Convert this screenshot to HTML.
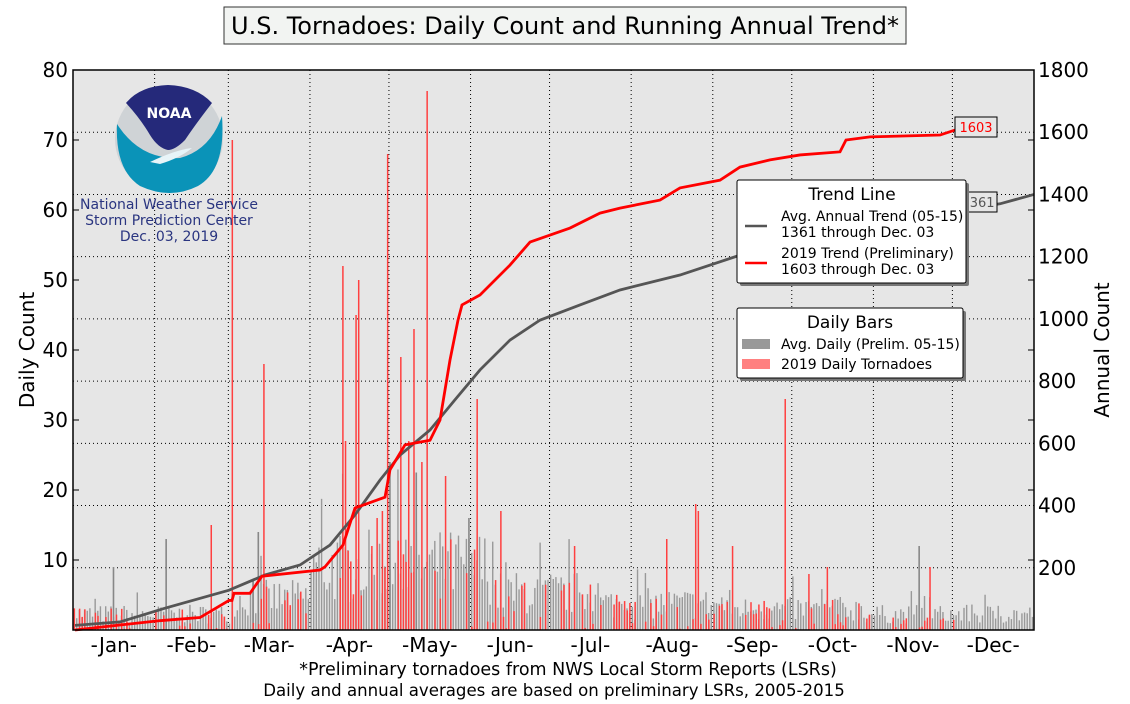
<!DOCTYPE html>
<html><head><meta charset="utf-8"><style>
body{margin:0;background:#fff;width:1130px;height:700px;overflow:hidden;font-family:"DejaVu Sans","Liberation Sans",sans-serif}
</style></head><body>
<svg id="s" width="1130" height="700" xmlns="http://www.w3.org/2000/svg" font-family="DejaVu Sans, Liberation Sans, sans-serif">
<rect x="224" y="7" width="682" height="37" fill="#f2f4f2" stroke="#333" stroke-width="1"/>
<text x="565" y="34" font-size="24" text-anchor="middle">U.S. Tornadoes: Daily Count and Running Annual Trend*</text>
<rect x="73" y="70" width="961" height="560" fill="#e6e6e6"/>
<g id="grid"></g>
<g id="bars"></g>
<g id="lines"></g>
<rect x="73" y="70" width="961" height="560" fill="none" stroke="#000" stroke-width="1.5"/>
<g id="ticks" font-size="20"></g>
<text transform="translate(34,350) rotate(-90)" font-size="20" text-anchor="middle">Daily Count</text>
<text transform="translate(1109,350) rotate(-90)" font-size="20" text-anchor="middle">Annual Count</text>
<text x="568" y="675" font-size="17.5" text-anchor="middle">*Preliminary tornadoes from NWS Local Storm Reports (LSRs)</text>
<text x="554" y="696" font-size="16.6" text-anchor="middle">Daily and annual averages are based on preliminary LSRs, 2005-2015</text>
<!-- logo -->
<circle cx="169" cy="139" r="54" fill="#cfd3d6"/>
<path d="M117,124 Q140,160 180,158 Q210,150 222,116 Q226,170 198,186 Q170,200 140,186 Q115,170 117,124Z" fill="#0a93b8"/>
<path d="M126,103 Q140,86 168,85 Q196,86 212,103 Q195,125 185,140 Q175,150 168,150 Q158,148 150,135 Q140,118 126,103Z" fill="#25297a"/>
<path d="M150,162 Q175,150 192,148 Q180,158 160,164Z" fill="#e8f4f8"/>
<text x="169" y="118" font-size="14" font-weight="bold" fill="#fff" text-anchor="middle">NOAA</text>
<text x="169" y="209" font-size="14" fill="#2a3580" text-anchor="middle">National Weather Service</text>
<text x="169" y="225" font-size="14" fill="#2a3580" text-anchor="middle">Storm Prediction Center</text>
<text x="169" y="241" font-size="14" fill="#2a3580" text-anchor="middle">Dec. 03, 2019</text>
<!-- value labels -->
<rect x="955" y="117" width="42" height="20" fill="#e6e6e6" stroke="#000"/>
<text x="976" y="132" font-size="13" fill="#f00" text-anchor="middle">1603</text>
<rect x="955" y="192" width="42" height="20" fill="#e6e6e6" stroke="#000"/>
<text x="978" y="207" font-size="13" fill="#555" text-anchor="middle">1361</text>
<!-- legends -->
<rect x="740" y="183" width="229" height="103" rx="2" fill="#777"/>
<rect x="737" y="180" width="229" height="103" rx="2" fill="#fff" stroke="#000"/>
<text x="852" y="200" font-size="17" text-anchor="middle">Trend Line</text>
<line x1="745" y1="226" x2="767" y2="226" stroke="#555" stroke-width="2.5"/>
<line x1="745" y1="263" x2="767" y2="263" stroke="#f00" stroke-width="2.5"/>
<g font-size="14"><text x="781" y="221">Avg. Annual Trend (05-15)</text><text x="781" y="237">1361 through Dec. 03</text>
<text x="781" y="258">2019 Trend (Preliminary)</text><text x="781" y="274">1603 through Dec. 03</text></g>
<rect x="740" y="311" width="226" height="70" rx="2" fill="#777"/>
<rect x="737" y="308" width="226" height="70" rx="2" fill="#fff" stroke="#000"/>
<text x="850" y="328" font-size="17" text-anchor="middle">Daily Bars</text>
<rect x="742" y="339" width="28" height="10" fill="#999"/>
<rect x="742" y="359" width="28" height="10" fill="#ff8080"/>
<g font-size="14"><text x="781" y="349">Avg. Daily (Prelim. 05-15)</text><text x="781" y="369">2019 Daily Tornadoes</text></g>
</svg>
<script>
var NS="http://www.w3.org/2000/svg";
function el(p,t,a,txt){var e=document.createElementNS(NS,t);for(var k in a)e.setAttribute(k,a[k]);if(txt)e.textContent=txt;document.getElementById(p).appendChild(e);return e;}
var X0=73,PD=961/365;
var ms=[0,31,59,90,120,151,181,212,243,273,304,334,365],mn=["Jan","Feb","Mar","Apr","May","Jun","Jul","Aug","Sep","Oct","Nov","Dec"];
for(var i=1;i<12;i++){var x=X0+ms[i]*PD;el("grid","line",{x1:x,y1:70,x2:x,y2:630,stroke:"#000","stroke-width":1,"stroke-dasharray":"1,3"});}
for(var v=200;v<1800;v+=200){var y=630-v*560/1800;el("grid","line",{x1:73,y1:y,x2:1034,y2:y,stroke:"#000","stroke-width":1,"stroke-dasharray":"1,3"});}
for(var i=0;i<12;i++){var x=X0+(ms[i]+ms[i+1])/2*PD;el("ticks","text",{x:x,y:652,"text-anchor":"middle"},"-"+mn[i]+"-");}
for(var v=0;v<=80;v+=10){var y=630-v*7;el("ticks","text",{x:68,y:y+7,"text-anchor":"end"},v);el("ticks","line",{x1:73,y1:y,x2:79,y2:y,stroke:"#000"});el("ticks","line",{x1:1028,y1:y,x2:1034,y2:y,stroke:"#000"});}
for(var v=0;v<=1800;v+=200){var y=630-v*560/1800;el("ticks","text",{x:1038,y:y+7},v);}
var seed=7;function rnd(){seed=(seed*16807)%2147483647;return seed/2147483647;}
function env(d){ if(d<60)return 3; if(d<90)return 6; if(d<160)return 12; if(d<200)return 7; if(d<250)return 5; if(d<300)return 4; if(d<330)return 3; return 3;}
for(var d=0;d<365;d++){var x=X0+d*PD+1;var g=env(d)*(0.3+rnd()*0.9);if(rnd()<0.1)g*=1.6;
el("bars","rect",{x:x-0.6,y:630-g*7,width:1.4,height:g*7,fill:"#999"});}
var gs={35:13,70:14,120:24,130:22.5,321:12,15:9,68:7,150:16};
for(var d in gs){var x=X0+d*PD+1;el("bars","rect",{x:x-0.8,y:630-gs[d]*7,width:1.6,height:gs[d]*7,fill:"#888"});}
var big={60:70,72:38,102:52,103:27,107:45,108:50,119:68,134:77,129:43,124:39,153:33,270:33,236:18,237:17,141:22,132:24,117:17,115:16,162:17,190:12,225:13,279:8,286:9,325:9,250:12,113:12,127:27,52:15};
for(var d=0;d<337;d++){var x=X0+d*PD+1.3;var r=big[d];if(r===undefined){if(rnd()<0.55)continue;r=env(d)*rnd()*1.1;}
el("bars","rect",{x:x-0.7,y:630-r*7,width:1.5,height:r*7,fill:"#ff4040"});}
function ln(pts,c){var s="";pts.forEach(function(p){s+=p[0]+","+(630-p[1]*0.3111)+" ";});el("lines","polyline",{points:s,fill:"none",stroke:c,"stroke-width":2.8});}
ln([[75,15],[120,26],[165,70],[229,128],[265,177],[300,209],[330,273],[355,370],[380,482],[400,562],[430,643],[455,740],[480,836],[510,932],[540,996],[580,1045],[620,1093],[680,1141],[740,1205],[800,1254],[870,1302],[960,1350],[1000,1370],[1034,1400]],"#555");
ln([[75,0],[120,16],[160,30],[200,40],[229,95],[232,95],[234,118],[250,118],[262,173],[320,193],[325,203],[343,273],[355,392],[385,427],[390,515],[405,595],[430,610],[440,675],[450,868],[458,996],[462,1045],[480,1077],[510,1173],[530,1247],[570,1292],[600,1340],[620,1356],[660,1382],[680,1421],[720,1446],[740,1488],[770,1511],[800,1527],[840,1537],[846,1575],[870,1585],[940,1591],[955,1607]],"#f00");
</script>
</body></html>
